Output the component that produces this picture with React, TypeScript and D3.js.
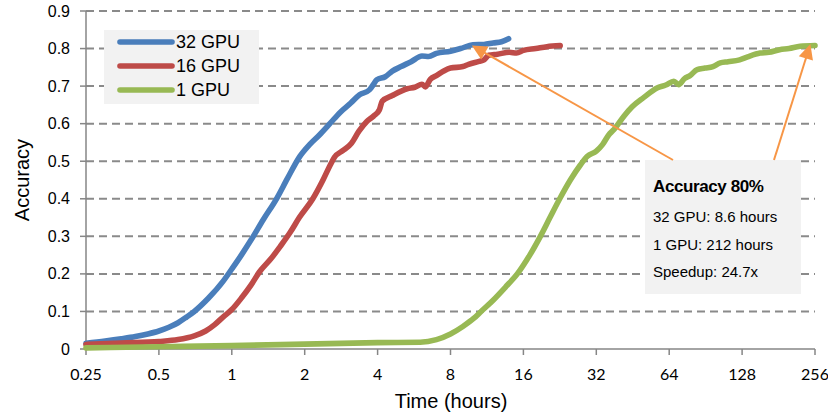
import React from 'react';
import * as d3 from 'd3';

const xTicks = [0.25, 0.5, 1, 2, 4, 8, 16, 32, 64, 128, 256];
const yTicks = [0, 0.1, 0.2, 0.3, 0.4, 0.5, 0.6, 0.7, 0.8, 0.9];

const gpu32: [number, number][] = [
  [0.25, 0.015], [0.3, 0.021], [0.35, 0.027], [0.4, 0.033], [0.45, 0.04], [0.5, 0.048],
  [0.55, 0.058], [0.6, 0.07], [0.65, 0.085], [0.7, 0.1], [0.8, 0.135], [0.92, 0.18],
  [1.0, 0.213], [1.1, 0.252], [1.2, 0.29], [1.35, 0.345], [1.53, 0.4], [1.7, 0.455],
  [1.91, 0.513], [2.1, 0.545], [2.3, 0.57], [2.54, 0.6], [2.8, 0.63], [3.1, 0.655],
  [3.37, 0.677], [3.7, 0.69], [3.85, 0.705], [3.97, 0.717], [4.3, 0.725], [4.6, 0.74],
  [5.0, 0.752], [5.5, 0.765], [6.1, 0.78], [6.5, 0.779], [7, 0.787], [8, 0.793],
  [8.8, 0.8], [9.9, 0.81], [11, 0.811], [12, 0.815], [13, 0.818], [13.9, 0.826],
];

const gpu16: [number, number][] = [
  [0.25, 0.012], [0.35, 0.016], [0.5, 0.02], [0.6, 0.025], [0.7, 0.035], [0.78, 0.048],
  [0.85, 0.065], [0.92, 0.085], [1.0, 0.105], [1.1, 0.137], [1.2, 0.17], [1.3, 0.205],
  [1.45, 0.24], [1.58, 0.272], [1.74, 0.31], [1.9, 0.35], [2.16, 0.4], [2.38, 0.45],
  [2.55, 0.49], [2.65, 0.51], [2.9, 0.53], [3.12, 0.548], [3.35, 0.58], [3.61, 0.606],
  [3.85, 0.62], [4.07, 0.637], [4.18, 0.66], [4.6, 0.675], [5.3, 0.693], [5.7, 0.697],
  [6.1, 0.705], [6.3, 0.698], [6.6, 0.718], [7, 0.728], [7.5, 0.74], [8, 0.748],
  [9, 0.752], [9.5, 0.758], [10.5, 0.766], [11, 0.77], [11.5, 0.782], [12.5, 0.785],
  [14, 0.79], [15, 0.788], [16, 0.795], [18, 0.8], [20, 0.805], [22.7, 0.808],
];

const gpu1: [number, number][] = [
  [0.25, 0.003], [0.5, 0.006], [1, 0.009], [2, 0.013], [4, 0.017], [6, 0.018],
  [7, 0.025], [8, 0.04], [9, 0.06], [10, 0.082], [10.7, 0.1], [12, 0.13],
  [13.5, 0.165], [15.1, 0.2], [17, 0.25], [18.8, 0.3], [20.6, 0.35], [22.6, 0.4],
  [25, 0.45], [27.5, 0.49], [29.4, 0.513], [32, 0.527], [34, 0.545], [36, 0.57],
  [37.8, 0.584], [41.6, 0.62], [45, 0.645], [50.3, 0.67], [57, 0.695], [62, 0.703],
  [66.9, 0.713], [70, 0.704], [74, 0.72], [78, 0.728], [83.5, 0.744], [90, 0.748],
  [97, 0.752], [104, 0.762], [112, 0.765], [125, 0.77], [135, 0.778], [152, 0.788],
  [165, 0.79], [183, 0.797], [200, 0.8], [222, 0.806], [256, 0.808],
];

const series = [
  { name: '32 GPU', color: '#4a7ebb', data: gpu32 },
  { name: '16 GPU', color: '#be4b48', data: gpu16 },
  { name: '1 GPU', color: '#98b954', data: gpu1 },
];

const noteLines = ['32 GPU: 8.6 hours', '1 GPU: 212 hours', 'Speedup: 24.7x'];

const W = 828;
const H = 415;
const left = 86;
const right = 815;
const top = 11;
const bottom = 349;

const App: React.FC = () => {
  const x = d3.scaleLog().base(2).domain([0.25, 256]).range([left, right]);
  const y = d3.scaleLinear().domain([0, 0.9]).range([bottom, top]);
  const line = d3
    .line<[number, number]>()
    .x(d => x(d[0]))
    .y(d => y(d[1]))
    .curve(d3.curveMonotoneX);

  const sans = 'Liberation Sans, Arial, sans-serif';
  const orange = '#f79646';
  const axisColor = '#868686';

  // arrows from the note box to the 80% points
  const arrows = [
    { from: [673, 160], to: [x(9.8), y(0.808)] },
    { from: [774, 160], to: [x(245), y(0.812)] },
  ];

  const arrowHead = (fx: number, fy: number, tx: number, ty: number) => {
    const a = Math.atan2(ty - fy, tx - fx);
    const len = 15;
    const half = 7.4;
    const bx = tx - len * Math.cos(a);
    const by = ty - len * Math.sin(a);
    const px = -Math.sin(a) * half;
    const py = Math.cos(a) * half;
    return `M${tx},${ty}L${bx + px},${by + py}L${bx - px},${by - py}Z`;
  };

  return (
    <svg
      width={W}
      height={H}
      style={{ position: 'absolute', left: 0, top: 0, background: '#fff' }}
    >
      {/* grid */}
      {yTicks.slice(1).map(t => (
        <line
          key={t}
          x1={left}
          x2={right}
          y1={y(t)}
          y2={y(t)}
          stroke="#8a8a8a"
          strokeWidth={2}
          strokeDasharray="8,5"
        />
      ))}

      {/* axes */}
      <line x1={left} x2={left} y1={top} y2={bottom} stroke={axisColor} strokeWidth={1.5} />
      <line x1={left} x2={right} y1={bottom} y2={bottom} stroke={axisColor} strokeWidth={1.5} />
      {yTicks.map(t => (
        <g key={t}>
          <line x1={left - 6} x2={left} y1={y(t)} y2={y(t)} stroke={axisColor} strokeWidth={1.5} />
          <text
            x={70}
            y={y(t)}
            dy="0.35em"
            textAnchor="end"
            fontFamily={sans}
            fontSize={16}
            fill="#000"
          >
            {t === 0 ? '0' : t.toFixed(1)}
          </text>
        </g>
      ))}
      {xTicks.map(t => (
        <g key={t}>
          <line x1={x(t)} x2={x(t)} y1={bottom} y2={bottom + 6} stroke={axisColor} strokeWidth={1.5} />
          <text
            x={x(t)}
            y={380}
            textAnchor="middle"
            fontFamily="Lato, sans-serif"
            fontSize={16}
            fill="#000"
          >
            {t}
          </text>
        </g>
      ))}
      <text
        x={451}
        y={408}
        textAnchor="middle"
        fontFamily={sans}
        fontSize={20}
        fill="#000"
      >
        Time (hours)
      </text>
      <text
        transform={`translate(29,${(top + bottom) / 2}) rotate(-90)`}
        textAnchor="middle"
        fontFamily={sans}
        fontSize={20}
        fill="#000"
      >
        Accuracy
      </text>

      {/* series */}
      {series.map(s => (
        <path
          key={s.name}
          d={line(s.data) || ''}
          fill="none"
          stroke={s.color}
          strokeWidth={5.6}
          strokeLinejoin="round"
          strokeLinecap="round"
        />
      ))}

      {/* legend */}
      <rect x={104} y={30} width={155} height={74} fill="#f2f2f2" />
      {series.map((s, i) => (
        <g key={s.name}>
          <line
            x1={120}
            x2={172}
            y1={42 + i * 24}
            y2={42 + i * 24}
            stroke={s.color}
            strokeWidth={5.6}
            strokeLinecap="round"
          />
          <text x={176} y={42 + i * 24} dy="0.36em" fontFamily={sans} fontSize={18} fill="#000">
            {s.name}
          </text>
        </g>
      ))}

      {/* note box */}
      <rect x={645} y={160} width={156} height={134} fill="#f2f2f2" />
      <text
        x={653}
        y={192}
        fontFamily={sans}
        fontSize={17}
        fontWeight="bold"
        letterSpacing={-0.4}
        fill="#000"
      >
        Accuracy 80%
      </text>
      {noteLines.map((t, i) => (
        <text key={t} x={653} y={222 + i * 27.5} fontFamily={sans} fontSize={15} fill="#000">
          {t}
        </text>
      ))}

      {/* arrows */}
      {arrows.map((a, i) => {
        const [fx, fy] = a.from;
        const tx = a.to[0];
        const ty = a.to[1];
        const ang = Math.atan2(ty - fy, tx - fx);
        return (
          <g key={i}>
            <line
              x1={fx}
              y1={fy}
              x2={tx - 12 * Math.cos(ang)}
              y2={ty - 12 * Math.sin(ang)}
              stroke={orange}
              strokeWidth={2}
            />
            <path d={arrowHead(fx, fy, tx, ty)} fill={orange} />
          </g>
        );
      })}
    </svg>
  );
};

export default App;
